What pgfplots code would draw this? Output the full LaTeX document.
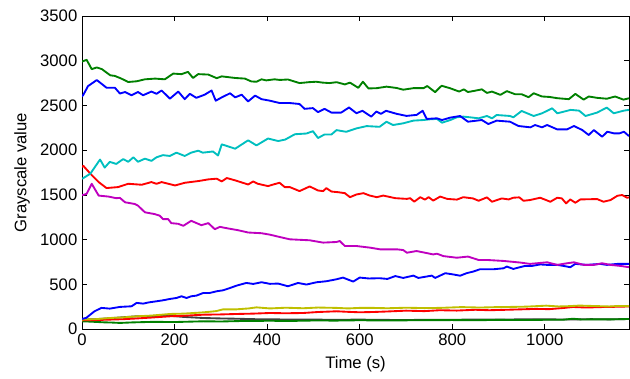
\documentclass[border=0pt]{standalone}
\usepackage{fontspec}
\setmainfont{Liberation Sans}
\usepackage{pgfplots}
\pgfplotsset{compat=1.18}
\definecolor{mgreen}{rgb}{0,0.5,0}
\definecolor{mblue}{rgb}{0,0,1}
\definecolor{mcyan}{rgb}{0,0.75,0.75}
\definecolor{mred}{rgb}{1,0,0}
\definecolor{mmag}{rgb}{0.75,0,0.75}
\definecolor{myel}{rgb}{0.75,0.75,0}
\definecolor{mgray}{rgb}{0.25,0.25,0.25}
\begin{document}
\begin{tikzpicture}[font=\fontsize{12.5}{14}\selectfont]
\begin{axis}[name=ax, scale only axis, width=410.25pt, height=234.75pt,
  xmin=0, xmax=1182, ymin=0, ymax=3500,
  xtick={0,200,...,1000}, ytick={0,500,...,3500},
  tick align=inside, major tick length=3.75pt,
  tick style={black, line width=0.5pt}, axis line style={line width=0.5pt},
  /pgf/number format/assume math mode=true,
  /pgf/number format/1000 sep={},
  xlabel={Time (s)}, ylabel={Grayscale value},
  xlabel style={at={(axis description cs:0.5,-0.112)}, anchor=center},
  ylabel style={at={(axis description cs:-0.1097,0.5)}, anchor=center},
  every axis plot/.append style={line width=1.4pt, line join=round}]
% gray low
\addplot[mgray] coordinates {(0,105) (30,110) (60,120) (90,132) (118,142) (150,146) (190,148) (220,135) (262,123) (300,118) (334,115) (370,110) (406,108) (450,106) (500,105) (550,103) (600,105) (650,102) (700,100) (750,104) (800,103) (850,106) (900,105) (950,108) (1000,108) (1050,106) (1100,110) (1140,108) (1182,112)};
% green low
\addplot[mgreen] coordinates {(0,86) (20,82) (45,75) (65,72) (82,68) (110,74) (154,80) (200,78) (262,86) (300,84) (350,90) (406,92) (450,90) (500,95) (550,94) (600,98) (650,95) (700,97) (750,99) (800,100) (850,98) (900,102) (950,100) (1000,103) (1040,104) (1061,115) (1080,106) (1100,108) (1140,107) (1182,112)};
% red low
\addplot[mred] coordinates {(0,97) (30,100) (60,105) (90,110) (118,118) (150,128) (190,142) (220,148) (262,160) (300,163) (334,168) (370,172) (406,179) (440,176) (478,179) (510,190) (550,198) (575,192) (600,187) (629,190) (660,196) (700,205) (740,200) (773,210) (810,206) (850,215) (880,210) (917,215) (950,220) (980,225) (1010,222) (1040,235) (1061,246) (1090,240) (1120,245) (1150,248) (1182,252)};
% yellow
\addplot[myel] coordinates {(0,105) (30,110) (60,123) (90,130) (118,142) (150,150) (190,168) (220,172) (262,186) (290,200) (305,220) (334,220) (360,230) (377,242) (406,230) (440,238) (478,232) (510,240) (550,236) (575,230) (600,236) (629,236) (660,232) (700,238) (740,234) (773,236) (820,245) (860,240) (890,244) (917,246) (960,250) (1003,261) (1030,252) (1050,255) (1075,262) (1100,258) (1140,252) (1160,258) (1182,255)};
% blue low
\addplot[mblue] coordinates {(0,113) (9,124) (27,198) (42,236) (60,228) (82,247) (107,254) (118,292) (132,284) (146,299) (161,310) (175,321) (190,336) (204,347) (215,366) (226,347) (236,366) (247,373) (262,403) (276,403) (291,422) (305,433) (320,459) (334,485) (355,515) (370,504) (388,523) (406,505) (424,508) (445,478) (467,515) (485,497) (507,523) (528,534) (550,556) (564,575) (586,530) (600,575) (620,565) (643,568) (660,560) (677,592) (694,571) (716,597) (727,571) (756,597) (763,571) (785,624) (800,612) (817,596) (831,624) (845,642) (860,668) (889,668) (911,679) (918,698) (932,672) (957,705) (972,705) (990,722) (1005,717) (1027,717) (1041,705) (1055,691) (1066,728) (1091,717) (1120,728) (1134,717) (1157,728) (1182,728)};
% magenta
\addplot[mmag] coordinates {(0,1495) (3,1500) (10,1511) (21,1624) (36,1492) (57,1481) (74,1463) (82,1466) (93,1417) (114,1398) (121,1379) (136,1305) (157,1285) (168,1267) (175,1229) (186,1229) (193,1184) (208,1176) (219,1154) (236,1210) (258,1161) (273,1184) (287,1116) (298,1142) (316,1124) (337,1105) (359,1079) (388,1071) (406,1055) (427,1029) (449,1003) (492,992) (521,966) (550,973) (557,984) (568,928) (593,928) (622,910) (644,891) (680,891) (694,883) (702,853) (723,872) (759,834) (767,842) (781,815) (810,797) (834,810) (857,772) (875,772) (911,761) (947,743) (968,728) (1005,746) (1027,717) (1048,735) (1063,746) (1084,717) (1106,717) (1124,735) (1142,717) (1164,705) (1182,691)};
% red
\addplot[mred] coordinates {(0,1810) (3,1824) (18,1737) (36,1643) (53,1576) (78,1587) (100,1624) (129,1613) (150,1643) (161,1624) (172,1643) (201,1605) (222,1635) (251,1654) (273,1673) (291,1681) (302,1650) (313,1688) (331,1662) (359,1616) (370,1650) (380,1624) (402,1598) (416,1620) (427,1635) (438,1587) (449,1587) (470,1542) (492,1594) (510,1549) (521,1542) (528,1575) (539,1537) (553,1530) (568,1519) (579,1474) (593,1504) (608,1519) (622,1492) (637,1474) (651,1492) (677,1463) (702,1455) (709,1463) (718,1424) (731,1474) (741,1447) (749,1474) (759,1436) (774,1481) (789,1455) (810,1447) (824,1474) (845,1460) (857,1434) (875,1472) (886,1423) (907,1460) (922,1449) (932,1468) (945,1472) (954,1434) (968,1442) (990,1468) (1012,1423) (1027,1468) (1037,1460) (1046,1405) (1055,1449) (1066,1412) (1077,1449) (1113,1453) (1127,1423) (1142,1442) (1157,1490) (1167,1498) (1178,1468) (1182,1472)};
% cyan
\addplot[mcyan] coordinates {(0,1680) (3,1688) (18,1737) (39,1895) (49,1805) (60,1869) (74,1846) (89,1900) (100,1870) (111,1920) (121,1870) (136,1905) (150,1880) (161,1920) (175,1944) (190,1935) (204,1972) (222,1935) (236,1972) (251,1994) (261,1972) (283,1985) (294,1940) (302,2065) (331,2016) (359,2110) (377,2053) (402,2130) (424,2102) (439,2118) (460,2178) (485,2186) (499,2212) (510,2136) (524,2175) (539,2175) (550,2224) (571,2205) (593,2243) (615,2269) (643,2261) (658,2318) (672,2281) (694,2300) (716,2330) (738,2337) (752,2345) (767,2349) (778,2307) (796,2337) (810,2368) (824,2375) (839,2367) (857,2356) (875,2382) (886,2356) (896,2393) (925,2382) (932,2367) (950,2438) (976,2382) (994,2412) (1016,2468) (1027,2412) (1056,2450) (1074,2442) (1088,2382) (1113,2420) (1134,2476) (1149,2412) (1171,2442) (1182,2450)};
% blue top
\addplot[mblue] coordinates {(0,2600) (3,2620) (13,2716) (32,2784) (53,2698) (71,2698) (82,2633) (93,2650) (107,2614) (121,2650) (132,2614) (150,2655) (161,2630) (172,2667) (190,2576) (208,2655) (222,2570) (233,2630) (247,2585) (265,2620) (280,2667) (289,2553) (302,2590) (320,2636) (331,2590) (345,2620) (359,2545) (374,2610) (388,2570) (406,2553) (427,2527) (449,2527) (470,2516) (481,2462) (499,2470) (510,2425) (524,2462) (539,2420) (560,2420) (577,2477) (593,2413) (606,2440) (625,2375) (636,2432) (646,2406) (657,2440) (680,2406) (701,2383) (723,2394) (736,2440) (745,2349) (767,2356) (778,2337) (796,2364) (817,2382) (834,2318) (864,2337) (878,2292) (896,2330) (925,2318) (943,2270) (969,2255) (979,2281) (994,2255) (1005,2281) (1027,2232) (1048,2232) (1063,2270) (1081,2225) (1095,2169) (1106,2225) (1124,2150) (1135,2206) (1150,2187) (1161,2187) (1171,2206) (1182,2157)};
% green top
\addplot[mgreen] coordinates {(0,2990) (10,3010) (21,2906) (32,2925) (43,2906) (61,2837) (71,2830) (85,2800) (100,2762) (118,2770) (136,2792) (158,2800) (179,2792) (197,2856) (215,2850) (229,2875) (240,2807) (251,2850) (273,2845) (291,2805) (302,2825) (331,2807) (352,2800) (366,2768) (377,2765) (388,2792) (398,2780) (416,2792) (427,2785) (445,2790) (470,2750) (490,2760) (506,2765) (520,2755) (535,2750) (550,2760) (568,2735) (579,2755) (597,2697) (607,2765) (619,2690) (637,2693) (658,2710) (680,2695) (694,2676) (716,2693) (738,2693) (746,2717) (763,2649) (777,2720) (795,2693) (815,2655) (825,2680) (834,2650) (850,2665) (864,2680) (875,2640) (886,2655) (904,2618) (918,2660) (936,2625) (950,2625) (965,2592) (976,2636) (994,2600) (1010,2595) (1027,2581) (1052,2570) (1066,2629) (1084,2565) (1095,2600) (1113,2585) (1134,2575) (1152,2600) (1170,2565) (1182,2580)};
\end{axis}
\path ([shift={(-61.5pt,-36.75pt)}]ax.south west) rectangle ([shift={(0.75pt,12pt)}]ax.north east);
\end{tikzpicture}
\end{document}
